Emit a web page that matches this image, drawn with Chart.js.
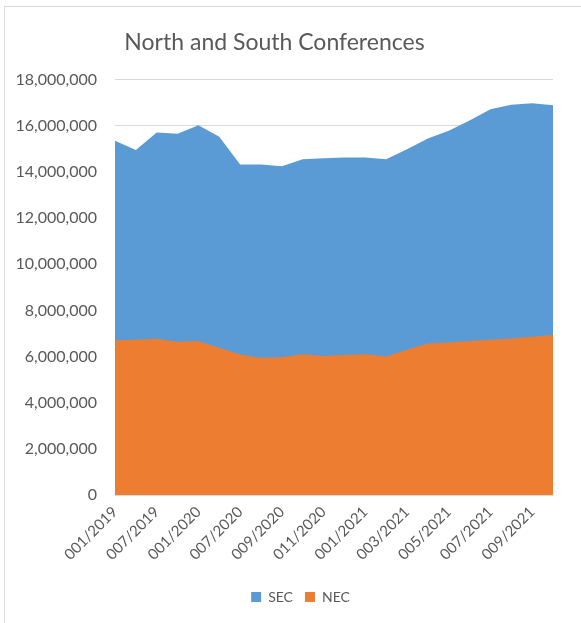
<!DOCTYPE html>
<html>
<head>
<meta charset="utf-8">
<script src="https://cdn.jsdelivr.net/npm/chart.js@4.4.0/dist/chart.umd.min.js"></script>
<style>
  html, body { margin: 0; padding: 0; background: #fff; overflow: hidden; }
  #frame { position: absolute; left: 4px; top: 6px; width: 620px; height: 660px; border: 1px solid #d9d9d9; }
  #wrap { position: absolute; left: 0; top: 0; width: 581px; height: 623px; }
</style>
</head>
<body>
<div id="frame"></div>
<div id="wrap"><canvas id="areaChart"></canvas></div>
<script>
// month labels (only every other one is shown on the axis)
const months = [
  '001/2019', '004/2019', '007/2019', '010/2019', '001/2020', '004/2020',
  '007/2020', '008/2020', '009/2020', '010/2020', '011/2020', '012/2020',
  '001/2021', '002/2021', '003/2021', '004/2021', '005/2021', '006/2021',
  '007/2021', '008/2021', '009/2021', '010/2021'
];

// values
const secValues = [
  15350000, 14950000, 15710000, 15650000, 16020000, 15520000,
  14320000, 14320000, 14240000, 14550000, 14590000, 14620000,
  14620000, 14550000, 14980000, 15450000, 15780000, 16230000,
  16720000, 16910000, 16980000, 16890000
];
const necValues = [
  6710000, 6730000, 6770000, 6640000, 6670000, 6380000,
  6090000, 5950000, 5970000, 6100000, 6020000, 6070000,
  6100000, 6000000, 6290000, 6570000, 6610000, 6670000,
  6730000, 6780000, 6860000, 6930000
];

const yTicks = { min: 0, max: 18000000, step: 2000000 };

const textColor = '#595959';
const fontFamily = 'Lato, "Liberation Sans", sans-serif';

// nudge title and legend so they sit where the reference has them
const boxNudge = {
  id: 'boxNudge',
  afterLayout(chart) {
    const lg = chart.legend;
    lg.left += 24; lg.right += 24;
    lg.top -= 2; lg.bottom -= 2;
    const t = chart.titleBlock;
    t.left -= 2; t.right -= 2;
  }
};

const ctx = document.getElementById('areaChart').getContext('2d');
new Chart(ctx, {
  type: 'line',
  data: {
    labels: months,
    datasets: [
      {
        label: 'SEC',
        data: secValues,
        backgroundColor: '#5B9BD5',
        borderColor: '#5B9BD5',
        borderWidth: 0,
        pointRadius: 0,
        fill: 'origin',
        order: 1
      },
      {
        label: 'NEC',
        data: necValues,
        backgroundColor: '#ED7D31',
        borderColor: '#ED7D31',
        borderWidth: 0,
        pointRadius: 0,
        fill: 'origin',
        order: 0
      }
    ]
  },
  options: {
    responsive: true,
    maintainAspectRatio: false,
    animation: false,
    layout: { padding: { left: 0, right: 28, top: 0, bottom: 7 } },
    plugins: {
      title: {
        display: true,
        text: 'North and South Conferences',
        color: textColor,
        font: { family: fontFamily, size: 23, weight: 'normal', lineHeight: 1.2 },
        padding: { top: 29, bottom: 23 }
      },
      legend: {
        position: 'bottom',
        labels: {
          color: textColor,
          font: { family: fontFamily, size: 14 },
          boxWidth: 10,
          boxHeight: 10,
          padding: 12,
          sort: (a, b) => a.datasetIndex - b.datasetIndex
        }
      },
      tooltip: { enabled: false }
    },
    scales: {
      x: {
        grid: { display: false, drawTicks: false },
        border: { display: true, color: '#d9d9d9' },
        ticks: {
          color: textColor,
          font: { family: fontFamily, size: 15 },
          autoSkip: false,
          minRotation: 45,
          maxRotation: 45,
          padding: 8,
          callback: function(value, index) {
            return index % 2 === 0 ? this.getLabelForValue(value) : '';
          }
        },
        afterFit: function(scale) { scale.height = 85; }
      },
      y: {
        min: yTicks.min,
        max: yTicks.max,
        grid: { color: '#d9d9d9', drawTicks: false },
        border: { display: false },
        ticks: {
          stepSize: yTicks.step,
          color: textColor,
          font: { family: fontFamily, size: 16 },
          padding: 18,
          callback: v => v.toLocaleString('en-US')
        },
        afterFit: function(scale) { scale.width = 115; }
      }
    }
  },
  plugins: [boxNudge]
});
</script>
</body>
</html>
